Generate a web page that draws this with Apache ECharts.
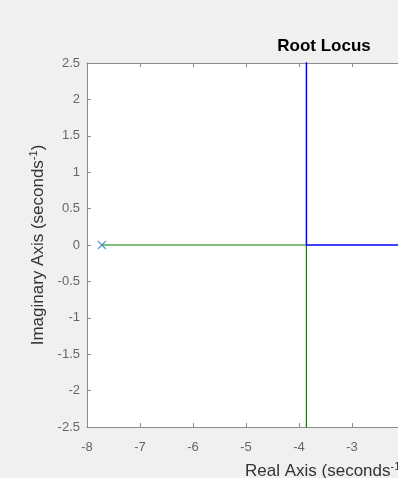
<!DOCTYPE html>
<html>
<head>
<meta charset="utf-8">
<script src="https://cdn.jsdelivr.net/npm/echarts@6/dist/echarts.min.js"></script>
<style>
  html, body { margin: 0; padding: 0; background: #f0f0f0; }
  #chart { width: 398px; height: 478px; }
</style>
</head>
<body>
<div id="chart"></div>
<script>
// Open-loop poles on the real axis (real, imag)
const poles = [[-7.72, 0], [0, 0]];
// Branch leaving the left pole: along the real axis to the breakaway point, then downward
const branchGreen = [[-7.72, 0], [-3.86, 0], [-3.86, -3]];
// Branch leaving the pole at the origin: along the real axis to the breakaway point, then upward
const branchBlue = [[0, 0], [-3.86, 0], [-3.86, 3]];
// Axis ranges
const xRange = [-8, 1];
const yRange = [-2.5, 2.5];

const FONT = 'Liberation Sans, Arial, Helvetica, sans-serif';
const AXIS_GRAY = '#8c8c8c';
const LABEL_GRAY = '#666666';

const chart = echarts.init(document.getElementById('chart'), null, { renderer: 'canvas' });

const nameRich = {
  a: { fontSize: 17, fontFamily: FONT, color: '#333333' },
  s: { fontSize: 11, fontFamily: FONT, color: '#333333', verticalAlign: 'top', padding: [0, 0, 9, 0] }
};

chart.setOption({
  backgroundColor: '#f0f0f0',
  animation: false,
  grid: {
    left: 87, top: 63, right: -166, bottom: 51,
    outerBoundsMode: 'none', containLabel: false,
    show: true, backgroundColor: '#ffffff', borderWidth: 0
  },
  graphic: [{
    type: 'text', x: 324, y: 46,
    style: { text: 'Root Locus', font: 'bold 17px ' + FONT, fill: '#000000', textAlign: 'center', textVerticalAlign: 'middle' }
  }],
  xAxis: [{
    type: 'value', min: xRange[0], max: xRange[1], interval: 1, position: 'bottom',
    axisLine: { show: true, onZero: false, lineStyle: { color: AXIS_GRAY, width: 1 } },
    axisTick: { show: true, inside: true, length: 4, lineStyle: { color: AXIS_GRAY } },
    axisLabel: { color: LABEL_GRAY, fontSize: 13, fontFamily: FONT, margin: 14 },
    splitLine: { show: false },
    name: '{a|Real Axis (seconds}{s|-1}{a|)}',
    nameLocation: 'middle', nameGap: 34,
    nameTextStyle: { rich: nameRich }
  }, {
    type: 'value', min: xRange[0], max: xRange[1], interval: 1, position: 'top',
    axisLine: { show: true, onZero: false, lineStyle: { color: AXIS_GRAY, width: 1 } },
    axisTick: { show: true, inside: true, length: 4, lineStyle: { color: AXIS_GRAY } },
    axisLabel: { show: false },
    splitLine: { show: false }
  }],
  yAxis: [{
    type: 'value', min: yRange[0], max: yRange[1], interval: 0.5,
    axisLine: { show: true, onZero: false, lineStyle: { color: AXIS_GRAY, width: 1 } },
    axisTick: { show: true, inside: true, length: 4, lineStyle: { color: AXIS_GRAY } },
    axisLabel: { color: LABEL_GRAY, fontSize: 13, fontFamily: FONT, margin: 7 },
    splitLine: { show: false },
    name: '{a|Imaginary Axis (seconds}{s|-1}{a|)}',
    nameLocation: 'middle', nameGap: 30, nameRotate: 90,
    nameTextStyle: { rich: nameRich }
  }],
  series: [{
    type: 'line', data: branchGreen, symbol: 'none', clip: true,
    lineStyle: { color: '#008000', width: 1.2 }
  }, {
    type: 'line', data: branchBlue, symbol: 'none', clip: true,
    lineStyle: { color: '#0000ff', width: 1.5 }
  }, {
    type: 'scatter', data: poles, clip: true,
    symbol: 'path://M0,0L10,10M10,0L0,10', symbolSize: 8,
    itemStyle: { color: 'none', borderColor: '#2f7fc8', borderWidth: 1.2 }
  }]
});
</script>
</body>
</html>
